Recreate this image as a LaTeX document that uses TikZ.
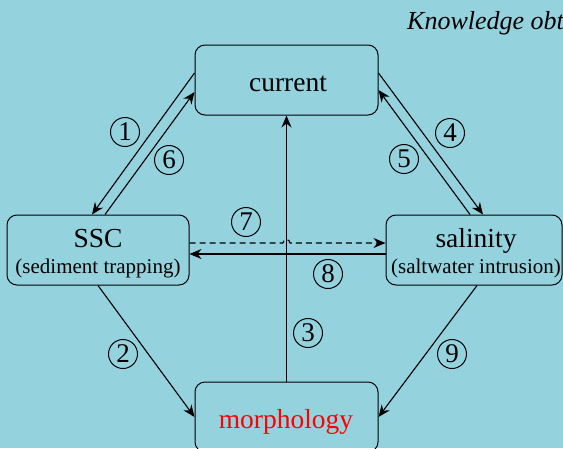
\documentclass[tikz,border=0pt]{standalone}
\usepackage{fontspec}
\setmainfont{Liberation Serif}
\newfontfamily\tnr{Liberation Serif}
\usetikzlibrary{arrows.meta,calc}
\definecolor{bg}{RGB}{148,210,222}
\begin{document}
\begin{tikzpicture}[x=1pt,y=-1pt,
  box/.style={draw, rounded corners=10pt, line width=1pt, minimum width=#1,
    minimum height=70pt, inner sep=0pt},
  big/.style={inner sep=0pt, font=\tnr\fontsize{27.5}{30}\selectfont},
  small/.style={inner sep=0pt, font=\tnr\fontsize{21}{24}\selectfont},
  arr/.style={line width=1.1pt, -{Stealth[length=12pt,width=10pt,inset=4pt]}},
  num/.style={draw, circle, line width=1pt, minimum size=29pt, inner sep=0pt,
    font=\tnr\fontsize{27}{29}\selectfont}]
  % canvas and background
  \useasboundingbox (0,0) rectangle (563,448);
  \clip (0,0) rectangle (563,448);
  \fill[bg] (0,0) rectangle (563,448);

  % title
  \node[anchor=base west, inner sep=0pt, font=\tnr\fontsize{26}{28}\selectfont\itshape]
    (title) at (407,29) {Knowledge obt};

  % boxes
  \node[box=183pt] (cur) at (286.5,80) {};
  \node[box=182pt] (ssc) at (98,250) {};
  \node[box=176pt] (sal) at (474,250) {};
  \node[box=183pt] (mor) at (286.5,417) {};

  % box texts
  \node[big, anchor=base] (curtxt) at (288,91) {current};
  \node[big, anchor=base] (ssctxt) at (98,247) {SSC};
  \node[small, anchor=base] (ssctxt2) at (98,273) {(sediment trapping)};
  \node[big, anchor=base] (saltxt) at (476,247) {salinity};
  \node[small, anchor=base] (saltxt2) at (476,273) {(saltwater intrusion)};
  \node[big, anchor=base, text=red] (mortxt) at (286,428) {morphology};

  % connectors
  \draw[arr] ([yshift=7pt]cur.west) -- ([xshift=-6pt]ssc.north);
  \draw[arr] ([xshift=7pt]ssc.north) -- ([yshift=-12pt]cur.west);
  \draw[arr] ([yshift=7pt]cur.east) -- ([xshift=9pt]sal.north);
  \draw[arr] ([xshift=-4pt]sal.north) -- ([yshift=-10pt]cur.east);
  \draw[arr] (mor.north) -- (cur.south);
  \coordinate (d0) at ([yshift=7pt]ssc.east);
  \coordinate (d1) at ([yshift=7pt]sal.west);
  \coordinate (hop) at (cur.south |- d0);
  \draw[arr, dash pattern=on 6pt off 4pt] (d0) -- ([xshift=-3.5pt]hop)
    arc[start angle=180, end angle=0, radius=3.5pt] -- (d1);
  \draw[arr] ([yshift=-4pt]sal.west) -- ([yshift=-4pt]ssc.east);
  \draw[arr] (ssc.south) -- (mor.west);
  \draw[arr] ([xshift=3pt]sal.south) -- (mor.east);

  % connector numbers
  \node[num] (n1) at (125,132) {1};
  \node[num] (n6) at (169,160) {6};
  \node[num] (n4) at (450,133) {4};
  \node[num] (n5) at (404,159) {5};
  \node[num] (n7) at (246,222) {7};
  \node[num] (n8) at (328,274) {8};
  \node[num] (n3) at (308,333) {3};
  \node[num] (n2) at (123,354) {2};
  \node[num] (n9) at (452,354) {9};
\end{tikzpicture}
\end{document}
